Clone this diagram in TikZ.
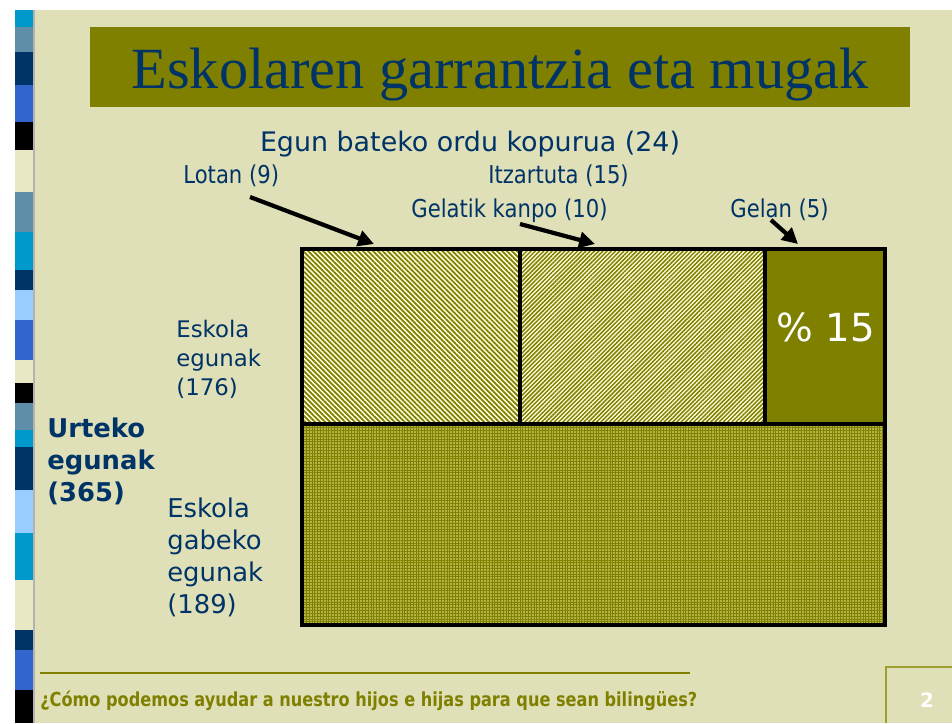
\documentclass[tikz,border=0pt]{standalone}
\usepackage{fontspec}
\setmainfont{Liberation Serif}
\newfontfamily\verd{DejaVu Sans}
\newfontfamily\verdn{DejaVu Sans}[FakeStretch=0.86]
\usetikzlibrary{patterns.meta,arrows.meta,positioning}
\definecolor{olib}{RGB}{128,128,0}
\definecolor{hondo}{RGB}{223,223,184}
\definecolor{urdin}{RGB}{0,51,102}
\definecolor{krema}{RGB}{255,255,225}
\definecolor{scyan}{RGB}{0,153,204}
\definecolor{sgris}{RGB}{95,143,168}
\definecolor{snavy}{RGB}{0,51,102}
\definecolor{sroyal}{RGB}{51,102,204}
\definecolor{sargi}{RGB}{153,204,255}
\definecolor{sbeltz}{RGB}{0,0,0}
\definecolor{sbeige}{RGB}{232,232,196}
\definecolor{orlarr}{RGB}{180,180,70}
\definecolor{ertz}{RGB}{160,160,50}
\begin{document}
\begin{tikzpicture}[x=0.02cm,y=-0.02cm,
	lbl/.style={inner sep=0pt,text=urdin,font={\verdn\fontsize{14}{16}\selectfont}},
	arr/.style={line width=2.4pt,-{Triangle[length=9pt,width=9pt]}},
	gelaxka/.style={line width=2.3pt}]
	\useasboundingbox (0,0) rectangle (952,723);
	\fill[white] (0,0) rectangle (952,723);
	\fill[hondo] (15,10) rectangle (952,723);
	% ezkerreko zerrenda
	\foreach \ya/\yb/\c in {10/27/scyan,27/52/sgris,52/85/snavy,85/122/sroyal,122/150/sbeltz,
		150/192/sbeige,192/232/sgris,232/270/scyan,270/290/snavy,290/320/sargi,320/360/sroyal,
		360/383/sbeige,383/403/sbeltz,403/430/sgris,430/447/scyan,447/490/snavy,490/533/sargi,
		533/580/scyan,580/630/sbeige,630/650/snavy,650/690/sroyal,690/723/sbeltz}
		\fill[\c] (15,\ya) rectangle (33,\yb);
	\draw[gray!60,line width=0.6pt] (34,10) -- (34,723);
	% izenburua
	\fill[olib] (90,27) rectangle (910,107);
	\node (izenburua) [anchor=base,inner sep=0pt,text=urdin,font={\fontsize{33.2}{40}\selectfont}] at (500,89) {Eskolaren garrantzia eta mugak};
	% gelaxkak
	\fill[krema] (302,249) rectangle (885,424);
	\fill[pattern={Lines[angle=-45,distance=2pt,line width=1pt]},pattern color=olib] (302,249) rectangle (520,424);
	\fill[pattern={Lines[angle=45,distance=1.7pt,line width=0.85pt]},pattern color=olib] (520,249) rectangle (765,424);
	\fill[olib] (765,249) rectangle (885,424);
	\fill[orlarr] (302,424) rectangle (885,625);
	\fill[pattern={Hatch[angle=0,distance=1.6pt,line width=0.5pt]},pattern color=olib] (302,424) rectangle (885,625);
	\draw[gelaxka] (302,249) rectangle (885,625);
	\draw[gelaxka] (302,424) -- (885,424);
	\draw[gelaxka] (520,249) -- (520,424);
	\draw[gelaxka] (765,249) -- (765,424);
	\node (ehuneko) [anchor=base,inner sep=0pt,text=white,font={\verd\fontsize{22}{25}\selectfont}] at (826,341) {\% 15};
	% goiko etiketak
	\node (egun) [lbl,anchor=base,font={\verd\fontsize{15.3}{18}\selectfont}] at (470,151) {Egun bateko ordu kopurua (24)};
	\node (lotan) [lbl,anchor=base west] at (183,183) {Lotan (9)};
	\node (itzar) [lbl,anchor=base west] at (488,183) {Itzartuta (15)};
	\node (gelatik) [lbl,anchor=base west] at (411,217) {Gelatik kanpo (10)};
	\node (gelan) [lbl,anchor=base west] at (730,217) {Gelan (5)};
	\coordinate (lotan-b) at (250,197);
	\coordinate (lotan-m) at (374,244);
	\coordinate (gelatik-b) at (520,224);
	\coordinate (gelatik-m) at (595,244);
	\coordinate (gelan-b) at (771,220);
	\coordinate (gelan-m) at (798,244);
	\draw[arr] (lotan-b) -- (lotan-m);
	\draw[arr] (gelatik-b) -- (gelatik-m);
	\draw[arr] (gelan-b) -- (gelan-m);
	% ezkerreko etiketak
	\node (eskola) [lbl,anchor=north west,align=left,font={\verd\fontsize{13}{16.4}\selectfont}] at (176,320) {Eskola\\egunak\\(176)};
	\node (urteko) [lbl,anchor=north west,align=left,font={\verd\bfseries\fontsize{14.7}{18.1}\selectfont}] at (47,418) {Urteko\\egunak\\(365)};
	\node (gabeko) [lbl,anchor=north west,align=left,font={\verd\fontsize{14.7}{18.1}\selectfont}] at (167,498) {Eskola\\gabeko\\egunak\\(189)};
	% oina
	\draw[olib,line width=1.1pt] (40,673) -- (690,673);
	\node (oina) [anchor=base west,inner sep=0pt,text=olib,font={\verd\bfseries\fontsize{11}{13}\selectfont}] at (40,706) {\resizebox{13.14cm}{\height}{¿Cómo podemos ayudar a nuestro hijos e hijas para que sean bilingües?}};
	\draw[ertz,line width=0.6pt] (886,723) -- (886,667) -- (952,667);
	\node (orria) [anchor=base,inner sep=0pt,text=white,font={\verd\bfseries\fontsize{11.3}{13}\selectfont}] at (927,707) {2};
\end{tikzpicture}
\end{document}
